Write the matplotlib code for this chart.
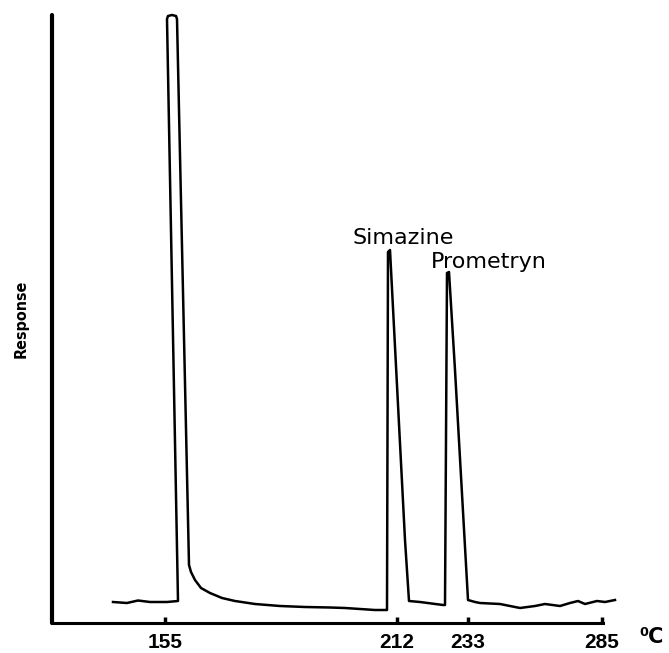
import matplotlib
matplotlib.use("Agg")
from matplotlib import pyplot as plt

# chromatogram trace, x = chart position, y = detector response (arbitrary units)
trace_x = [61, 75, 86, 98, 115, 126,
           115, 116, 120, 124, 125, 137,
           139, 143, 149, 158, 170, 183, 203, 228, 253, 278, 293, 308, 323, 334,
           335, 336, 338, 353, 357,
           368, 391,
           393, 395, 397, 403, 416,
           423, 428, 448, 468, 483, 493, 508, 518, 526, 533, 545, 553, 563]
trace_y = [21, 20, 22.5, 21, 21, 22,
           604, 607, 608, 607, 604, 58,
           51, 43, 35, 30, 25, 22, 19, 17, 16, 15.5, 15, 14, 13, 13,
           13, 371, 373, 83, 22,
           21, 18,
           18, 350, 351, 253, 23,
           21, 20, 19, 15, 17, 19, 17, 20, 22, 19, 22, 21, 23]

tick_pos = [113, 345, 416, 550]
tick_labels = ["155", "212", "233", "285"]

peak_names = ["Simazine", "Prometryn"]
peak_label_x = [351, 437]
peak_label_y = [385, 361]

fig = plt.figure(figsize=(6.69, 6.53), dpi=100)
ax = fig.add_axes([52 / 669, 30 / 653, (618 - 52) / 669, (623 - 15) / 653])

ax.plot(trace_x, trace_y, color="black", lw=1.8, solid_joinstyle="round",
        clip_on=False)

ax.set_xlim(0, 566)
ax.set_ylim(0, 608)

for side in ["top", "right"]:
    ax.spines[side].set_visible(False)
ax.spines["left"].set_linewidth(3.0)
ax.spines["bottom"].set_linewidth(2.2)
ax.spines["bottom"].set_bounds(0, 551)
ax.spines["left"].set_capstyle("round")

ax.set_yticks([])
ax.set_xticks(tick_pos)
ax.set_xticklabels(tick_labels, family=["Liberation Sans", "DejaVu Sans"],
                   fontweight="bold", fontsize=15)
ax.tick_params(axis="x", direction="in", length=4, width=2.5, pad=7)

ax.set_ylabel("Response", family=["DejaVu Sans"], fontstretch="condensed",
              fontweight="bold", fontsize=11.5, labelpad=17)

for name, lx, ly in zip(peak_names, peak_label_x, peak_label_y):
    ax.text(lx, ly, name, ha="center", va="center", fontsize=16,
            family="DejaVu Sans")

fig.text(652 / 669, 1 - 637 / 653, "⁰C", ha="center", va="center",
         fontsize=15, fontweight="bold", family="DejaVu Sans")

fig.savefig("out.png", dpi=100)
